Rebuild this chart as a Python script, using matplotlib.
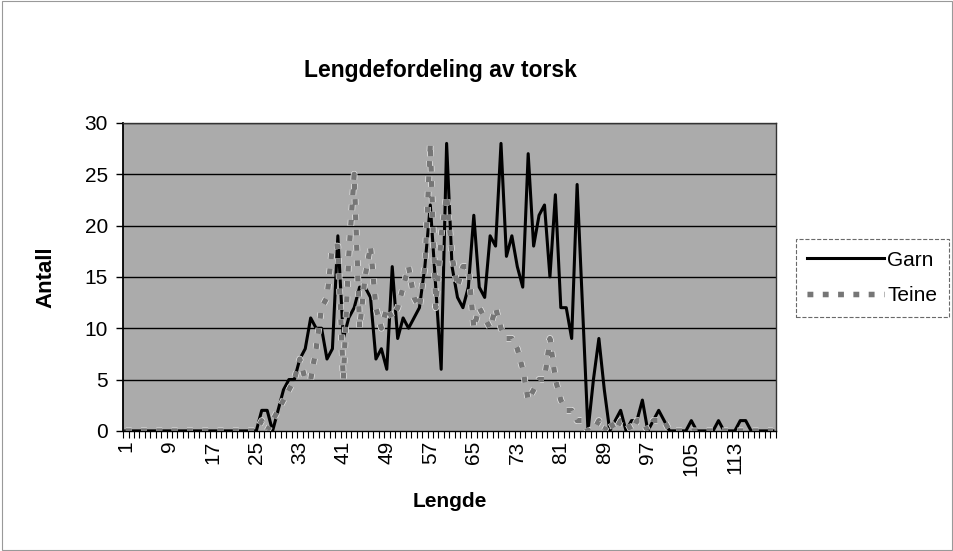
import matplotlib
matplotlib.use("Agg")
import matplotlib.pyplot as plt
import matplotlib.patheffects as pe
import numpy as np

plt.rcParams["font.family"] = ["Liberation Sans", "DejaVu Sans"]

# lengths 1..120 cm
lengde = np.arange(1, 121)

garn = [0] * 24 + [
    0, 2, 2, 0, 2, 4, 5, 5, 7, 8, 11, 10, 10, 7, 8, 19,          # 25-40
    9, 11, 12, 14, 14, 13, 7, 8, 6, 16, 9, 11, 10, 11, 12, 16,   # 41-56
    22, 14, 6, 28,                                               # 57-60
    16, 13, 12, 14, 21, 14, 13, 19, 18, 28, 17, 19, 16, 14, 27,  # 61-75
    18, 21, 22, 15, 23,                                          # 76-80
    12, 12, 9, 24, 12, 0, 5, 9, 4, 0, 1, 2, 0, 1, 1, 3, 0, 1, 2, 1,  # 81-100
    0, 0, 0, 0, 1, 0, 0, 0, 0, 1, 0, 0, 0, 1, 1, 0, 0, 0, 0, 0,  # 101-120
]

teine = [0] * 24 + [
    0, 1, 0, 1, 2, 3, 4, 5, 7, 5, 5, 8, 12, 13, 18, 18,          # 25-40
    5, 17, 25, 10, 15, 18, 12, 10, 12, 11, 12, 14, 16, 13, 12, 16,  # 41-56
    28, 12, 19, 23,                                              # 57-60
    17, 14, 16, 16, 10, 12, 11, 10, 12, 10, 9, 9, 8, 6, 3,       # 61-75
    4, 5, 5, 9, 5,                                               # 76-80
    3, 2, 2, 1, 1, 0, 0, 1, 0, 1, 0, 1, 1, 0, 1, 1, 0, 1, 1, 1,  # 81-100
    0, 0, 0, 0, 0, 0, 0, 0, 0, 0, 0, 0, 0, 0, 0, 0, 0, 0, 0, 0,  # 101-120
]

xtick_labels = list(range(1, 121, 8))
yticks = [0, 5, 10, 15, 20, 25, 30]

fig = plt.figure(figsize=(9.54, 5.51), dpi=100)
ax = fig.add_axes([0.129, 0.218, 0.684, 0.559])
ax.set_facecolor("#ababab")

for y in yticks[1:]:
    ax.axhline(y, color="black", linewidth=1.0, zorder=1)

ax.plot(lengde, garn, color="black", linewidth=2.2, label="Garn", zorder=3)
ax.plot(lengde, teine, color="#767676", linewidth=3.8, linestyle=(0, (1.1, 1.8)),
        label="Teine", zorder=4,
        path_effects=[pe.Stroke(linewidth=4.8, foreground="#e8e8e8"), pe.Normal()])

ax.set_xlim(0.5, 120.5)
ax.set_ylim(0, 30)
ax.set_yticks(yticks)
ax.set_yticklabels([str(v) for v in yticks], fontsize=15)
ax.set_xticks(xtick_labels)
ax.set_xticklabels([str(v) for v in xtick_labels], rotation=90, fontsize=15)
ax.set_xticks(np.arange(0.5, 121, 1), minor=True)
ax.tick_params(axis="x", which="major", length=0, pad=7)
ax.tick_params(axis="x", which="minor", length=5, direction="out", width=0.8)
ax.tick_params(axis="y", length=5, direction="out", width=1.0, pad=6)

for s in ax.spines.values():
    s.set_color("#333333")
    s.set_linewidth(1.0)
ax.spines["left"].set_color("black")
ax.spines["bottom"].set_color("black")
ax.spines["left"].set_linewidth(1.3)

ax.set_xlabel("Lengde", fontsize=15, fontweight="bold", labelpad=12)
ax.set_ylabel("Antall", fontsize=16, fontweight="bold", labelpad=20)
fig.text(0.462, 0.872, "Lengdefordeling av torsk", ha="center", va="center",
         fontsize=16.5, fontweight="bold")

leg = fig.legend(loc="upper left", bbox_to_anchor=(0.834, 0.566), fontsize=15,
                 frameon=True, fancybox=False, handlelength=3.7, borderpad=0.55,
                 labelspacing=0.8, handletextpad=0.15, borderaxespad=0)
leg.get_frame().set_edgecolor("#444444")
leg.get_frame().set_linestyle("--")
leg.get_frame().set_linewidth(0.8)

fig.patches.append(plt.Rectangle((0.002, 0.002), 0.996, 0.996, transform=fig.transFigure,
                                 fill=False, edgecolor="#999999", linewidth=0.8))

fig.savefig("out.png", dpi=100)
